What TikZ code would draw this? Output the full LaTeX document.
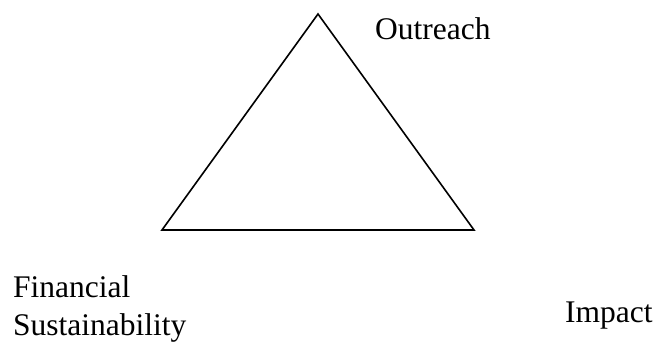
\documentclass[tikz,border=0pt]{standalone}
\usepackage{fontspec}
\setmainfont{Liberation Serif}
\begin{document}
\begin{tikzpicture}[x=1pt,y=-1pt,
  lbl/.style={anchor=base west,inner sep=0pt,font=\fontsize{31.5}{36.5}\selectfont},
  edge/.style={line width=1.6pt,line join=miter}]
\useasboundingbox (0,0) rectangle (657,342);
\coordinate (apex) at (318,14);
\coordinate (bl) at (162,230);
\coordinate (br) at (474,230);
\draw[edge] (apex) -- (bl) -- (br) -- cycle;
\node[lbl] (out) at (375,40) {Outreach};
\node[lbl] (fin) at (13,298) {Financial};
\node[lbl] (sus) at (13,335) {Sustainability};
\node[lbl] (imp) at (565,323) {Impact};
\end{tikzpicture}
\end{document}
